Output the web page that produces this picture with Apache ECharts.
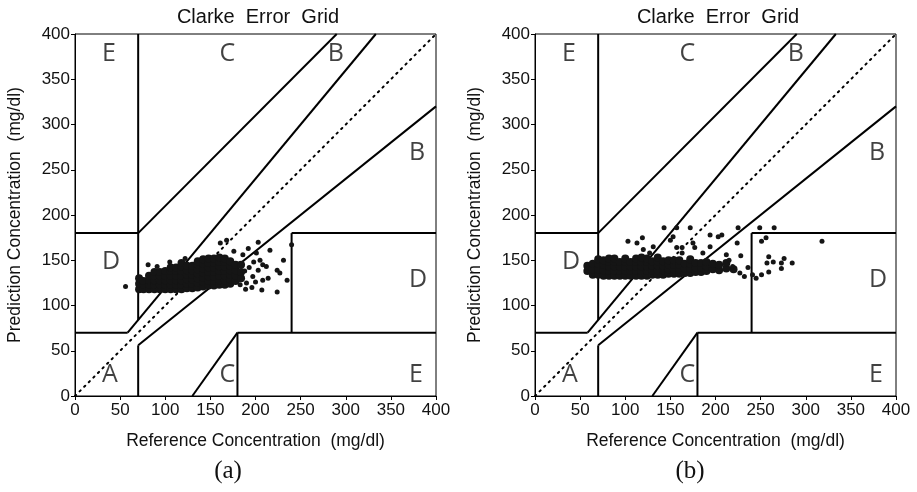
<!DOCTYPE html>
<html>
<head>
<meta charset="utf-8">
<script src="https://cdn.jsdelivr.net/npm/echarts@6/dist/echarts.min.js"></script>
<style>html,body{margin:0;padding:0;background:#fff;}#c{width:917px;height:492px;}</style>
</head>
<body>
<div id="c"></div>
<script>
// ---- Data ----
const chartTitle = 'Clarke  Error  Grid';
const xAxisName = 'Reference Concentration  (mg/dl)';
const yAxisName = 'Prediction Concentration  (mg/dl)';
const captions = ['(a)', '(b)'];
const axisTicks = [0, 50, 100, 150, 200, 250, 300, 350, 400];

// Clarke error grid zone boundaries (segments)
const zoneSegments = [
  [[0, 70], [175 / 3, 70]],
  [[175 / 3, 70], [400 / 1.2, 400]],
  [[70, 84], [70, 400]],
  [[0, 180], [70, 180]],
  [[70, 180], [290, 400]],
  [[70, 0], [70, 56]],
  [[70, 56], [400, 320]],
  [[180, 0], [180, 70]],
  [[180, 70], [400, 70]],
  [[240, 70], [240, 180]],
  [[240, 180], [400, 180]],
  [[130, 0], [180, 70]]
];
const identityLine = [[0, 0], [400, 400]];
const zoneLabels = [
  [30, 15, 'A'], [370, 260, 'B'], [280, 370, 'B'], [160, 370, 'C'], [160, 15, 'C'],
  [30, 140, 'D'], [370, 120, 'D'], [30, 370, 'E'], [370, 15, 'E']
];

// Panel (a): dense cluster and sparse points
const denseA = [
  [71,118],[71,124],[71,130],
  [76,118],[76,123],[76,127],
  [82,118],[82,123],[82,128],[82,133],
  [88,118],[88,123],[88,128],[88,133],[88,137],
  [94,118],[94,123],[94,128],[94,133],[94,137],
  [100,118],[100,123],[100,128],[100,133],[100,138],
  [106,118],[106,123],[106,128],[106,133],[106,138],[106,142],
  [112,118],[112,123],[112,128],[112,133],[112,138],[112,142],
  [118,118],[118,123],[118,128],[118,133],[118,138],[118,143],[118,147],
  [124,119],[124,124],[124,129],[124,134],[124,139],[124,144],
  [130,119],[130,124],[130,129],[130,134],[130,139],[130,144],
  [136,120],[136,125],[136,130],[136,135],[136,140],[136,145],[136,149],
  [142,121],[142,126],[142,131],[142,136],[142,141],[142,146],[142,151],
  [148,122],[148,127],[148,132],[148,137],[148,142],[148,147],[148,152],
  [154,122],[154,127],[154,132],[154,137],[154,142],[154,147],[154,152],
  [160,123],[160,128],[160,133],[160,138],[160,143],[160,148],[160,153],
  [166,123],[166,128],[166,133],[166,138],[166,143],[166,148],[166,152],
  [172,124],[172,129],[172,134],[172,139],[172,144],[172,149],
  [178,127],[178,133],[178,139],[178,145],
  [184,130],[184,137],[184,145]
];
const sparseA = [
  [56,121],[81,145],[91,143],[105,148],[122,152],[161,169],[168,172],[203,170],
  [216,161],[201,158],[231,150],[224,139],[227,136],[235,128],[224,115],[207,117],
  [196,120],[208,128],[212,143],[208,145],[203,139],[197,132],[190,125],[183,123],
  [240,167],[192,163],[205,150],[188,138],[186,156],[176,160],[214,130],[198,148],
  [193,142],[189,118],[200,126]
];

// Panel (b): dense cluster and sparse points
const denseB = [
  [58,138],[58,144],
  [64,134],[64,140],[64,146],
  [70,134],[70,140],[70,146],[70,151],
  [76,133],[76,139],[76,145],[76,150],
  [82,133],[82,138],[82,143],[82,148],[82,152],
  [88,133],[88,138],[88,143],[88,148],[88,152],
  [94,133],[94,138],[94,143],[94,148],
  [100,133],[100,138],[100,143],[100,148],[100,152],
  [106,133],[106,138],[106,143],[106,148],
  [112,133],[112,138],[112,143],[112,148],[112,152],
  [118,133],[118,138],[118,143],[118,148],[118,153],
  [124,133],[124,138],[124,143],[124,148],[124,152],
  [130,134],[130,139],[130,144],[130,149],
  [136,134],[136,139],[136,144],[136,149],[136,153],
  [142,134],[142,139],[142,144],[142,149],
  [148,135],[148,140],[148,145],[148,150],
  [154,135],[154,140],[154,145],[154,150],
  [160,135],[160,140],[160,145],[160,150],
  [166,136],[166,141],[166,146],
  [172,136],[172,141],[172,146],[172,151],
  [178,137],[178,142],[178,147],
  [184,137],[184,142],[184,147],
  [190,138],[190,143],[190,148],
  [197,140],[197,146],
  [204,139],[204,145],
  [212,141],[212,147],
  [220,140]
];
const sparseB = [
  [103,171],[119,175],[143,186],[157,186],[172,186],[150,172],[163,164],[177,164],
  [194,178],[203,176],[225,186],[224,169],[249,186],[265,186],[256,175],[251,171],
  [318,171],[153,176],[175,169],[194,165],[207,178],[131,165],[127,158],[157,164],
  [163,158],[259,154],[276,152],[264,148],[257,147],[285,147],[273,147],[273,141],
  [259,137],[251,134],[241,134],[227,136],[236,142],[219,143],[120,162],[113,169],
  [232,132],[245,130],[228,155],[212,156],[186,158],[215,150]
];

// ---- Chart ----
const panels = [
  { dense: denseA, sparse: sparseA, grid: { left: 75, right: 481, top: 34, bottom: 96 }, cx: 258, capX: 228 },
  { dense: denseB, sparse: sparseB, grid: { left: 535, right: 21, top: 34, bottom: 96 }, cx: 718, capX: 690 }
];
const txt = '#111';
const sans = 'Liberation Sans, Arial, sans-serif';

const grids = [], xAxes = [], yAxes = [], series = [], graphics = [];
panels.forEach((p, i) => {
  grids.push(Object.assign({ show: true, borderColor: '#000', borderWidth: 1, backgroundColor: '#fff' }, p.grid));
  const common = {
    gridIndex: i, type: 'value', min: axisTicks[0], max: axisTicks[axisTicks.length - 1],
    interval: axisTicks[1] - axisTicks[0],
    axisLine: { show: true, onZero: false, lineStyle: { color: '#000', width: 1 } },
    axisTick: { show: true, inside: false, length: 4, lineStyle: { color: '#000' } },
    axisLabel: { fontSize: 17, color: txt, fontFamily: sans },
    splitLine: { show: false },
    nameLocation: 'middle',
    nameTextStyle: { fontSize: 17.5, color: txt, fontFamily: sans }
  };
  xAxes.push(Object.assign({}, common, { name: xAxisName, nameGap: 36, axisLabel: Object.assign({}, common.axisLabel, { margin: 6 }) }));
  yAxes.push(Object.assign({}, common, { name: yAxisName, nameGap: 51, nameRotate: 90, axisLabel: Object.assign({}, common.axisLabel, { margin: 5 }) }));

  zoneSegments.forEach(seg => {
    series.push({
      type: 'line', xAxisIndex: i, yAxisIndex: i, data: seg, symbol: 'none', silent: true,
      lineStyle: { color: '#000', width: 2 }, z: 3
    });
  });
  series.push({
    type: 'line', xAxisIndex: i, yAxisIndex: i, data: identityLine, symbol: 'none', silent: true,
    lineStyle: { color: '#000', width: 2, type: [1.5, 5], cap: 'round' }, z: 3
  });
  series.push({
    type: 'scatter', xAxisIndex: i, yAxisIndex: i, data: p.dense, symbolSize: 8,
    itemStyle: { color: '#151515', opacity: 1 }, z: 4
  });
  series.push({
    type: 'scatter', xAxisIndex: i, yAxisIndex: i, data: p.sparse, symbolSize: 5,
    itemStyle: { color: '#151515', opacity: 1 }, z: 4
  });
  series.push({
    type: 'scatter', xAxisIndex: i, yAxisIndex: i, data: zoneLabels, symbolSize: 0, silent: true, z: 5,
    label: {
      show: true, formatter: d => d.value[2], position: [0, 0], align: 'left', verticalAlign: 'bottom',
      offset: [0, 5], fontSize: 25, fontFamily: 'Open Sans, sans-serif', color: '#111'
    }
  });
  graphics.push({
    type: 'text', x: p.cx, y: 17, z: 10,
    style: { text: chartTitle, align: 'center', verticalAlign: 'middle', font: '20px ' + sans, fill: txt }
  });
  graphics.push({
    type: 'text', x: p.capX, y: 471, z: 10,
    style: { text: captions[i], align: 'center', verticalAlign: 'middle', font: '25px Liberation Serif, serif', fill: txt }
  });
});

const chart = echarts.init(document.getElementById('c'), null, { renderer: 'canvas' });
chart.setOption({
  animation: false,
  backgroundColor: '#fff',
  grid: grids, xAxis: xAxes, yAxis: yAxes, series: series, graphic: graphics
});
</script>
</body>
</html>
